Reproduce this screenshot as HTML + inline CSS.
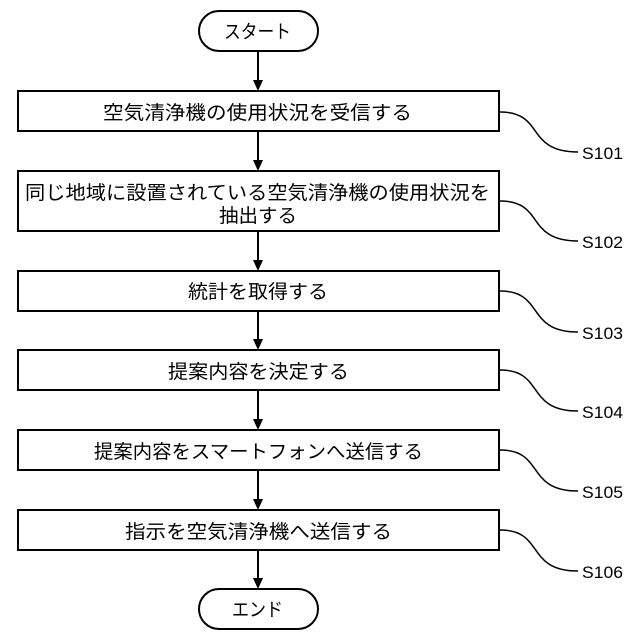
<!DOCTYPE html>
<html><head><meta charset="utf-8"><style>
html,body{margin:0;padding:0;background:#fff;}
svg{display:block;}
text{font-family:"Liberation Sans","Noto Sans CJK JP",sans-serif;fill:#000;}
.t{font-size:19px;}
.s{font-size:17px;}
</style></head><body>
<svg width="640" height="640" viewBox="0 0 640 640" xmlns="http://www.w3.org/2000/svg">
<g fill="none" stroke="#000" stroke-width="2">
<rect x="199" y="11" width="119" height="40" rx="20"/>
<rect x="18" y="91" width="481" height="40"/>
<rect x="18" y="171" width="481" height="60"/>
<rect x="18" y="271" width="481" height="40"/>
<rect x="18" y="350" width="481" height="40"/>
<rect x="18" y="430" width="481" height="40"/>
<rect x="18" y="510" width="481" height="40"/>
<rect x="199" y="589" width="119" height="40" rx="20"/>
</g>
<g stroke="#000" stroke-width="2">
<line x1="258" y1="51" x2="258" y2="82"/>
<line x1="258" y1="131" x2="258" y2="162"/>
<line x1="258" y1="231" x2="258" y2="262"/>
<line x1="258" y1="311" x2="258" y2="341"/>
<line x1="258" y1="390" x2="258" y2="421"/>
<line x1="258" y1="470" x2="258" y2="501"/>
<line x1="258" y1="550" x2="258" y2="580"/>
</g>
<g fill="#000">
<path d="M253 80 L263 80 L258 91 Z"/>
<path d="M253 160 L263 160 L258 171 Z"/>
<path d="M253 260 L263 260 L258 271 Z"/>
<path d="M253 339 L263 339 L258 350 Z"/>
<path d="M253 419 L263 419 L258 430 Z"/>
<path d="M253 499 L263 499 L258 510 Z"/>
<path d="M253 578 L263 578 L258 589 Z"/>
</g>
<g fill="none" stroke="#000" stroke-width="1.5">
<path d="M500 112 C545 112,525 152,578 152"/>
<path d="M500 201 C545 201,525 241,578 241"/>
<path d="M500 291 C545 291,525 332,578 332"/>
<path d="M500 370 C545 370,525 411,578 411"/>
<path d="M500 450 C545 450,525 491,578 491"/>
<path d="M500 530 C545 530,525 571,578 571"/>
</g>
<g class="t">
<text x="224" y="38" textLength="67" lengthAdjust="spacingAndGlyphs">スタート</text>
<text x="103" y="119" textLength="309" lengthAdjust="spacingAndGlyphs">空気清浄機の使用状況を受信する</text>
<text x="25" y="199" textLength="465" lengthAdjust="spacingAndGlyphs">同じ地域に設置されている空気清浄機の使用状況を</text>
<text x="219" y="222" textLength="78" lengthAdjust="spacingAndGlyphs">抽出する</text>
<text x="188" y="298" textLength="140" lengthAdjust="spacingAndGlyphs">統計を取得する</text>
<text x="168" y="378" textLength="181" lengthAdjust="spacingAndGlyphs">提案内容を決定する</text>
<text x="94" y="458" textLength="329" lengthAdjust="spacingAndGlyphs">提案内容をスマートフォンへ送信する</text>
<text x="125" y="538" textLength="267" lengthAdjust="spacingAndGlyphs">指示を空気清浄機へ送信する</text>
<text x="232" y="616" textLength="51" lengthAdjust="spacingAndGlyphs">エンド</text>
</g>
<g class="s">
<text x="582" y="159" textLength="41" lengthAdjust="spacingAndGlyphs">S101</text>
<text x="582" y="248" textLength="41" lengthAdjust="spacingAndGlyphs">S102</text>
<text x="582" y="339" textLength="41" lengthAdjust="spacingAndGlyphs">S103</text>
<text x="582" y="418" textLength="41" lengthAdjust="spacingAndGlyphs">S104</text>
<text x="582" y="498" textLength="41" lengthAdjust="spacingAndGlyphs">S105</text>
<text x="582" y="578" textLength="41" lengthAdjust="spacingAndGlyphs">S106</text>
</g>
</svg>
</body></html>
